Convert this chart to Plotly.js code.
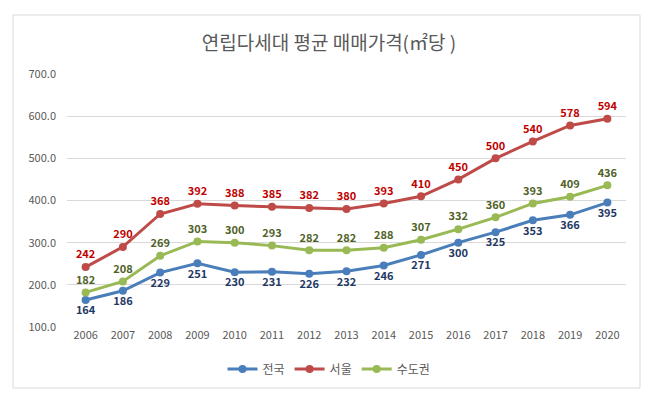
<!DOCTYPE html>
<html>
<head>
<meta charset="utf-8">
<script src="https://cdn.plot.ly/plotly-3.0.1.min.js"></script>
<style>
  html, body { margin: 0; padding: 0; background: #fff; }
  #chart { width: 658px; height: 400px; }
</style>
</head>
<body>
<div id="chart"></div>
<script>
  var years = ["2006", "2007", "2008", "2009", "2010", "2011", "2012", "2013", "2014", "2015", "2016", "2017", "2018", "2019", "2020"];
  var nationwide = [164, 186, 229, 251, 230, 231, 226, 232, 246, 271, 300, 325, 353, 366, 395];
  var seoul = [242, 290, 368, 392, 388, 385, 382, 380, 393, 410, 450, 500, 540, 578, 594];
  var capital = [182, 208, 269, 303, 300, 293, 282, 282, 288, 307, 332, 360, 393, 409, 436];
  var yTicks = [100, 200, 300, 400, 500, 600, 700];

  var FONT = "'Noto Sans CJK KR', 'Noto Sans', sans-serif";

  function series(name, values, lineColor, labelColor, pos) {
    return {
      x: years,
      y: values,
      name: name,
      type: "scatter",
      mode: "lines+markers+text",
      text: values.map(function (v) { return String(v); }),
      textposition: pos,
      textfont: { family: FONT, size: 11, color: labelColor, weight: 700 },
      line: { color: lineColor, width: 3 },
      marker: { color: lineColor, size: 8 },
      cliponaxis: false,
      hoverinfo: "skip",
    };
  }

  var traces = [
    series("전국", nationwide, "#4a7ebb", "#1f3864", "bottom center"),
    series("서울", seoul, "#be4b48", "#c00000", "top center"),
    series("수도권", capital, "#98b954", "#4f6228", "top center"),
  ];

  var layout = {
    width: 658,
    height: 400,
    margin: { l: 67, r: 32, t: 74, b: 73, autoexpand: false },
    paper_bgcolor: "#ffffff",
    plot_bgcolor: "#ffffff",
    font: { family: FONT, size: 11, color: "#595959" },
    title: {
      text: "연립다세대 평균 매매가격(㎡당 )",
      font: { family: FONT, size: 19, color: "#595959" },
      x: 0.5,
      xref: "container",
      xanchor: "center",
      y: 1 - 43 / 400,
      yanchor: "middle",
      automargin: false,
    },
    xaxis: {
      type: "category",
      range: [-0.5, 14.5],
      showgrid: false,
      zeroline: false,
      showline: false,
      ticks: "",
      tickangle: 0,
      automargin: false,
      tickfont: { family: FONT, size: 11, color: "#595959" },
    },
    yaxis: {
      range: [100, 700],
      tickvals: yTicks,
      ticktext: yTicks.map(function (v) { return v.toFixed(1); }),
      showgrid: true,
      gridcolor: "#d9d9d9",
      gridwidth: 1,
      zeroline: false,
      showline: false,
      ticks: "",
      automargin: false,
      ticklabelstandoff: 10,
      tickfont: { family: FONT, size: 11, color: "#595959" },
    },
    showlegend: true,
    legend: {
      orientation: "h",
      xref: "container",
      yref: "container",
      x: 0.5,
      xanchor: "center",
      y: 1 - 369 / 400,
      yanchor: "middle",
      font: { family: FONT, size: 12, color: "#595959" },
    },
    shapes: [
      {
        type: "rect",
        xref: "paper",
        yref: "paper",
        x0: (13 - 67) / 559,
        x1: (640 - 67) / 559,
        y0: (327 - 388) / 253,
        y1: (327 - 15) / 253,
        line: { color: "#d9d9d9", width: 1 },
        fillcolor: "rgba(0,0,0,0)",
        layer: "below",
      },
    ],
  };

  Plotly.newPlot("chart", traces, layout, { staticPlot: true, displayModeBar: false });
</script>
</body>
</html>
